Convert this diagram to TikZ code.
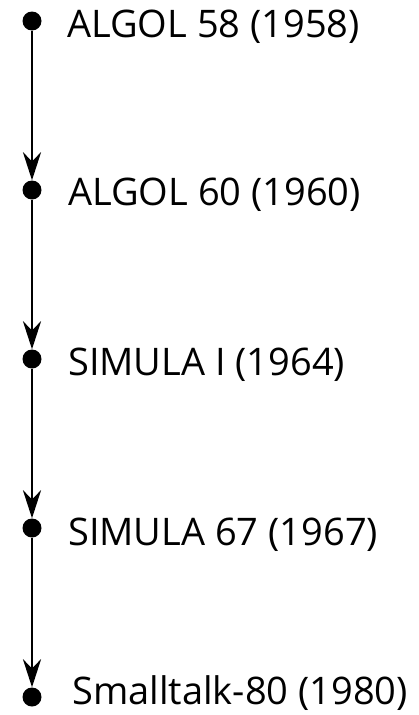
\documentclass[tikz,border=0pt]{standalone}
\usepackage{fontspec}
\setmainfont{Open Sans}
\usetikzlibrary{arrows.meta}
\begin{document}
\begin{tikzpicture}[x=1pt,y=-1pt,
  dot/.style={circle,fill=black,inner sep=0pt,minimum size=19pt},
  lbl/.style={anchor=base west,inner sep=0pt,font=\fontsize{38}{44}\selectfont},
  link/.style={line width=2.6pt,-{Stealth[length=28pt,width=18pt,inset=9pt]}}]
\useasboundingbox (0,0) rectangle (418,715);
\foreach \i/\y in {1/21,2/190,3/359,4/528,5/697}{
  \node[dot] (d\i) at (32,\y) {};
}
\node[lbl] (t1) at (67,37) {ALGOL 58 (1958)};
\node[lbl] (t2) at (68,205) {ALGOL 60 (1960)};
\node[lbl] (t3) at (68,375) {SIMULA I (1964)};
\node[lbl] (t4) at (68,545) {SIMULA 67 (1967)};
\node[lbl] (t5) at (72,704) {Smalltalk-80 (1980)};
\draw[link] (d1) -- (d2);
\draw[link] (d2) -- (d3);
\draw[link] (d3) -- (d4);
\draw[link] (d4) -- (d5);
\end{tikzpicture}
\end{document}
